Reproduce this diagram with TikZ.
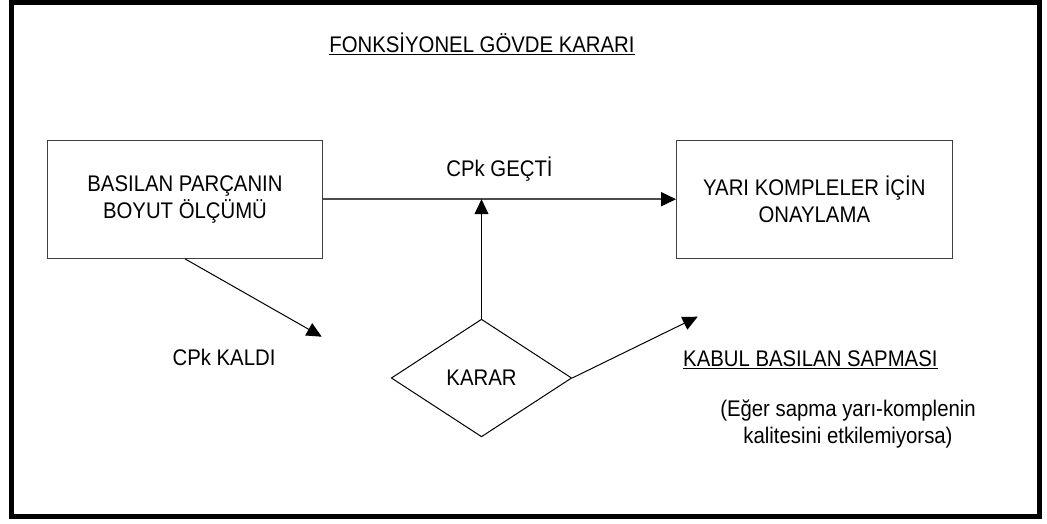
\documentclass[tikz,border=0pt]{standalone}
\usepackage{fontspec}
\setmainfont[FakeStretch=0.9]{Liberation Sans}
\usetikzlibrary{arrows.meta,shapes.geometric}
\begin{document}
\begin{tikzpicture}[x=1pt,y=-1pt,
  txt/.style={font=\fontsize{22.6}{27}\selectfont, inner sep=0pt, align=center},
  box/.style={txt, draw=black!75, line width=1pt, minimum width=275.4pt, minimum height=118.3pt},
  dec/.style={txt, shape=diamond, draw=black, line width=1pt, minimum width=180.5pt, minimum height=117.7pt},
  tip/.style={-{Triangle[length=15pt,width=14pt,color=black,fill=black]}},
  conn/.style={line width=1pt, draw=black, tip},
  uline/.style={line width=1.2pt}]
\useasboundingbox (0,0) rectangle (1047,523);
\draw[line width=5pt] (11.5,2) rectangle (1039,516);

\node[txt, anchor=base] (title) at (482,52.5) {FONKSİYONEL GÖVDE KARARI};
\draw[uline] ([yshift=-2pt]title.base west) -- ([yshift=-2pt]title.base east);

\node[box] (L) at (185,199.2) {BASILAN PARÇANIN\\BOYUT ÖLÇÜMÜ};
\node[box] (R) at (814.3,199.2) {YARI KOMPLELER İÇİN\\ONAYLAMA};
\node[dec] (D) at (481.5,378) {KARAR};

\node[txt, anchor=base] (gecti) at (499.5,176) {CPk GEÇTİ};
\node[txt, anchor=base] (kaldi) at (224,365) {CPk KALDI};
\node[txt, anchor=base west] (kabul) at (683,366) {KABUL BASILAN SAPMASI};
\draw[uline] ([yshift=-2.5pt]kabul.base west) -- ([yshift=-2.5pt]kabul.base east);
\node[txt] (note) at (848,423.7) {(Eğer sapma yarı-komplenin\\kalitesini etkilemiyorsa)};

\coordinate (kt) at (321.7,336.7);
\coordinate (at) at (697.7,316.7);

\draw[line width=1.5pt, draw=black!70, tip] (L.east) -- (R.west);
\draw[conn] (D.north) -- (D.north |- R.west);
\draw[conn] (L.south) -- (kt);
\draw[conn] (D.east) -- (at);
\end{tikzpicture}
\end{document}
